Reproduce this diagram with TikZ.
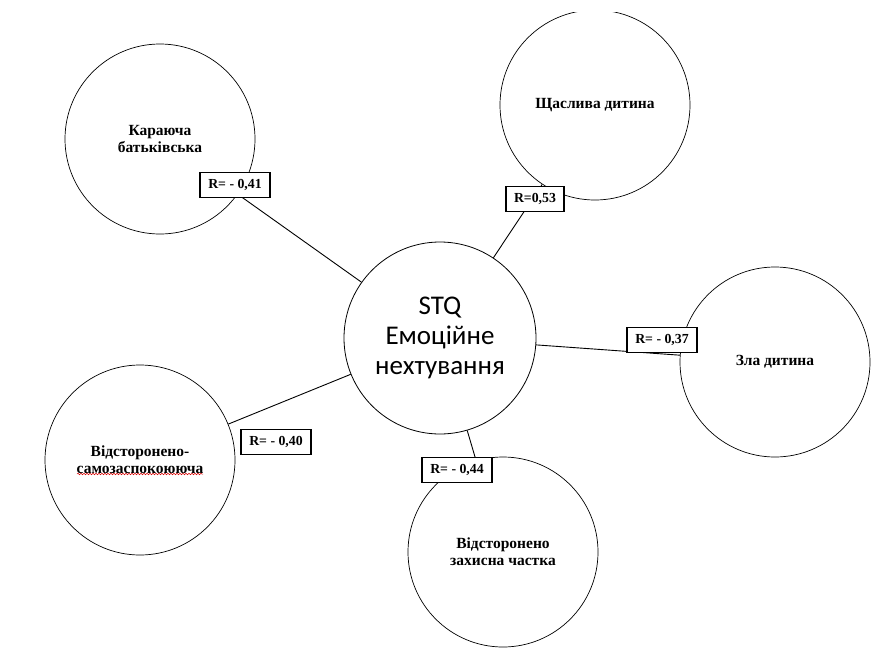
\documentclass[tikz,border=0pt]{standalone}
\usepackage{fontspec}
\setmainfont{Liberation Serif}
\newfontfamily\hubfont{Carlito}
\usetikzlibrary{decorations.pathmorphing}
\begin{document}
\begin{tikzpicture}[x=1pt,y=-1pt,
  bubble/.style={circle,draw,line width=0.7pt,minimum size=190pt,inner sep=0pt,
    align=center,font=\bfseries\fontsize{15.5}{17}\selectfont},
  hub/.style={circle,draw,line width=0.8pt,minimum size=192pt,inner sep=0pt,
    align=center,font=\hubfont\fontsize{27}{30}\selectfont},
  rbox/.style={draw,line width=1.6pt,fill=white,inner xsep=8pt,inner ysep=2pt,
    minimum height=25pt,font=\bfseries\fontsize{13.8}{16}\selectfont},
  link/.style={line width=0.9pt},
  spell/.style={red!85!black,line width=0.5pt,decorate,
    decoration={snake,amplitude=0.8pt,segment length=3pt}}]
\useasboundingbox (0,0) rectangle (887,651);
\begin{scope}
\clip (0,12) rectangle (887,651);

% hub and surrounding parts
\node[hub] (hub) at (440,338) {STQ\\Емоційне\\нехтування};
\node[bubble] (kar) at (160,139) {Караюча\\батьківська};
\node[bubble] (hap) at (595,105) {Щаслива дитина};
\node[bubble] (zla) at (775,362) {Зла дитина};
\node[bubble] (sam) at (140,460) {Відсторонено-\\самозаспокоююча};
\node[bubble] (zah) at (503,552) {Відсторонено\\захисна частка};

% spell-check mark under the long word
\coordinate (wl) at (77,474);
\coordinate (wr) at (203,474);
\draw[spell] (wl) -- (wr);

% connectors
\draw[link] (hub) -- (kar);
\draw[link] (hub) -- (hap);
\draw[link] (hub) -- (zla);
\draw[link] (hub) -- (sam);
\draw[link] (hub) -- (zah);

% correlation labels
\node[rbox] (rkar) at (235,185) {R= - 0,41};
\node[rbox] (rhap) at (535,199) {R=0,53};
\node[rbox] (rzla) at (662,340) {R= - 0,37};
\node[rbox] (rsam) at (276,442) {R= - 0,40};
\node[rbox] (rzah) at (457,470) {R= - 0,44};
\end{scope}
\end{tikzpicture}
\end{document}
